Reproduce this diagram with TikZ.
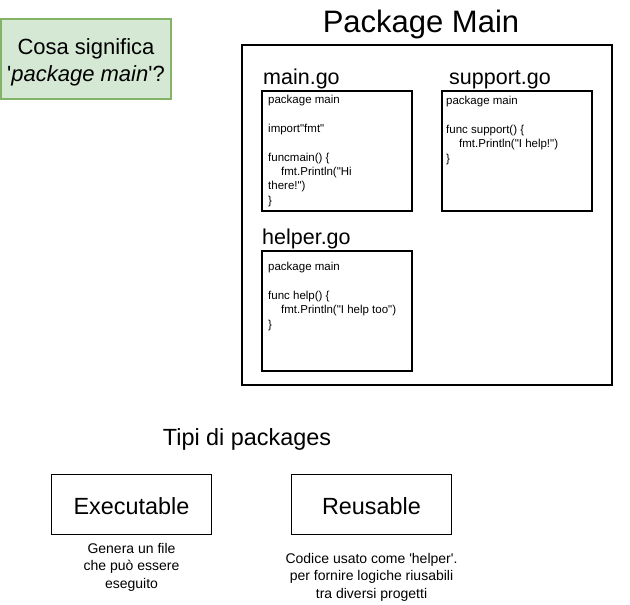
\documentclass[tikz,border=0pt]{standalone}
\usepackage{fontspec}
\setmainfont{Liberation Sans}[Ligatures=TeXOff]
\usetikzlibrary{positioning}
\definecolor{notegreen}{RGB}{213,232,212}
\definecolor{noteborder}{RGB}{130,179,102}

\begin{document}
\begin{tikzpicture}[
    x=1pt, y=-1pt,
    question/.style={rectangle, draw=noteborder, fill=notegreen, line width=1.5pt, minimum width=170pt, minimum height=80pt},
    questiontext/.style={align=center, inner sep=0pt, font=\fontsize{22}{27}\selectfont},
    frame/.style={rectangle, draw, line width=2pt, minimum width=370pt, minimum height=340pt, anchor=north west, inner sep=0pt},
    filebox/.style={rectangle, draw, line width=2pt, minimum width=150pt, minimum height=120pt, anchor=north west, inner sep=0pt},
    filelabel/.style={anchor=base west, inner sep=0pt, font=\fontsize{21.5}{26}\selectfont},
    code/.style={anchor=north west, inner sep=0pt, align=left, font=\fontsize{11.5}{14.4}\selectfont},
    kind/.style={rectangle, draw, line width=1.3pt, minimum width=160pt, minimum height=60pt, text height=20pt, text depth=0pt, font=\fontsize{23.4}{28}\selectfont},
    note/.style={align=center, inner sep=0pt, font=\fontsize{14}{17.5}\selectfont}
]
\useasboundingbox (0,0) rectangle (630,605);

% Question
\node[question] (question) at (86,59) {};
\node[questiontext] (questiontext) at ([yshift=-3pt]question.center) {Cosa significa\\'\textit{package main}'?};

% Package main
\node[anchor=base, inner sep=0pt, font=\fontsize{31}{36}\selectfont] (title) at (421,32) {Package Main};
\node[frame] (pkg) at (241,44) {};

\node[filebox] (mainbox) at (261,90) {};
\node[filelabel] (mainlabel) at (263,84) {main.go};
\node[code, below right=5pt and 7pt of mainbox.north west] (maincode) {package main\\[14.4pt]import"fmt"\\[14.4pt]funcmain() \{\\\hspace*{13pt}fmt.Println("Hi\\there!")\\\}};

\node[filebox] (supportbox) at (441,90) {};
\node[filelabel] (supportlabel) at (449,84) {support.go};
\node[code, below right=6pt and 5pt of supportbox.north west] (supportcode) {package main\\[14.4pt]func support() \{\\\hspace*{13pt}fmt.Println("I help!")\\\}};

\node[filebox] (helperbox) at (261,250) {};
\node[filelabel] (helperlabel) at (262,244) {helper.go};
\node[code, below right=12pt and 7pt of helperbox.north west] (helpercode) {package main\\[14.4pt]func help() \{\\\hspace*{13pt}fmt.Println("I help too")\\\}};

% Kinds of packages
\node[anchor=base, inner sep=0pt, font=\fontsize{23.4}{28}\selectfont] (kinds) at (247,445) {Tipi di packages};
\node[kind] (exec) at (131.5,504.5) {Executable};
\node[kind] (reuse) at (371.5,504.5) {Reusable};
\node[note, below=8pt of exec] (execnote) {Genera un file\\che può essere\\eseguito};
\node[note, below=18pt of reuse] (reusenote) {Codice usato come 'helper'.\\per fornire logiche riusabili\\tra diversi progetti};

\end{tikzpicture}
\end{document}
